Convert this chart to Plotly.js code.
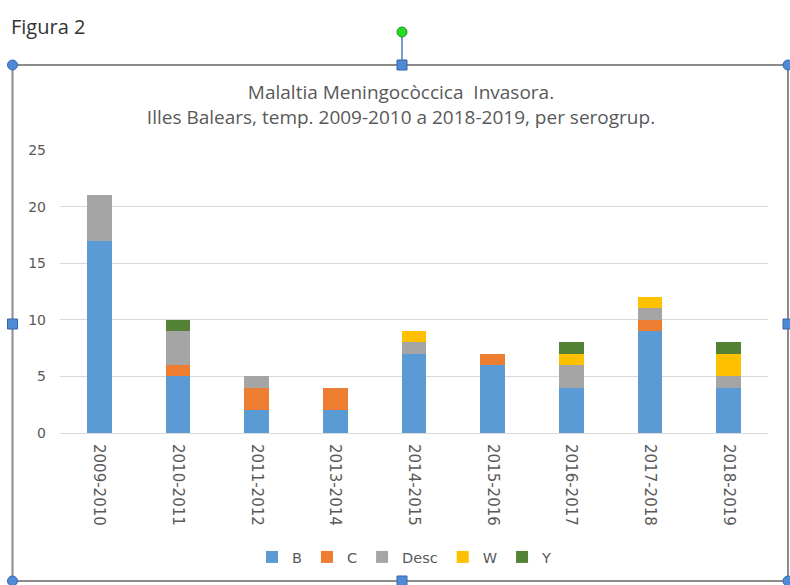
<!DOCTYPE html>
<html>
<head>
<meta charset="utf-8">
<script src="https://cdn.plot.ly/plotly-3.0.1.min.js"></script>
<style>html,body{margin:0;padding:0;background:#fff;}#chart{width:790px;height:585px;}</style>
</head>
<body>
<div id="chart"></div>
<script>
const seasons = ["2009-2010","2010-2011","2011-2012","2013-2014","2014-2015","2015-2016","2016-2017","2017-2018","2018-2019"];
const valB    = [17, 5, 2, 2, 7, 6, 4, 9, 4];
const valC    = [0, 1, 2, 2, 0, 1, 0, 1, 0];
const valDesc = [4, 3, 1, 0, 1, 0, 2, 1, 1];
const valW    = [0, 0, 0, 0, 1, 0, 1, 1, 2];
const valY    = [0, 1, 0, 0, 0, 0, 1, 0, 1];
const seriesNames = ["B","C","Desc","W","Y"];
const seriesColors = ["#5B9BD5","#ED7D31","#A5A5A5","#FFC000","#548235"];
const yTicks = [0,5,10,15,20,25];

const allVals = [valB, valC, valDesc, valW, valY];
const traces = allVals.map((v,i)=>({
  type:'bar', name: seriesNames[i], x: seasons, y: v,
  marker:{color: seriesColors[i]}, hoverinfo:'x+y+name'
}));

// layout geometry (pixels)
const W=790, H=585, L=60, R=22, T=150, B=152;
const pw = W-L-R, ph = H-T-B;
const px = x => (x-L)/pw;
const py = y => (H-B-y)/ph;

const border = '#8c8c8c';
const handleFill = '#4f8ad6', handleLine = '#3567ad';
const shapes = [];
shapes.push({type:'rect', xref:'paper', yref:'paper', x0:px(12.5), x1:px(788), y0:py(65), y1:py(581), line:{color:border, width:2}, fillcolor:'rgba(0,0,0,0)', layer:'above'});
// rotation handle
shapes.push({type:'line', xref:'paper', yref:'paper', x0:px(402), x1:px(402), y0:py(37), y1:py(62), line:{color:'#4a7ab8', width:1.5}});
function circ(cx,cy,r,fill,line){shapes.push({type:'circle', xref:'paper', yref:'paper', x0:px(cx-r), x1:px(cx+r), y0:py(cy+r), y1:py(cy-r), fillcolor:fill, line:{color:line,width:1}});}
function sq(cx,cy,r){shapes.push({type:'rect', xref:'paper', yref:'paper', x0:px(cx-r), x1:px(cx+r), y0:py(cy+r), y1:py(cy-r), fillcolor:handleFill, line:{color:handleLine,width:1}});}
circ(402,32,5,'#22dd22','#2a8a2a');
circ(12.5,65,5,handleFill,handleLine);
circ(788,65,5,handleFill,handleLine);
circ(12.5,581,5,handleFill,handleLine);
circ(788,581,5,handleFill,handleLine);
sq(402,65,5); sq(12.5,324,5); sq(788,324,5); sq(402,581,5);

const layout = {
  width:W, height:H,
  margin:{l:L, r:R, t:T, b:B, pad:0},
  paper_bgcolor:'#ffffff', plot_bgcolor:'#ffffff',
  barmode:'stack', bargap:0.69,
  font:{family:'"DejaVu Sans", sans-serif', color:'#595959', size:14},
  title:{text:'Malaltia Meningocòccica  Invasora.<br>Illes Balears, temp. 2009-2010 a 2018-2019, per serogrup.',
         font:{size:19, color:'#595959', family:'"Open Sans", sans-serif'},
         x:px(401), xanchor:'center', xref:'paper', y:1-99/H, yanchor:'middle', yref:'container'},
  xaxis:{type:'category', tickangle:90, showgrid:false, showline:false, zeroline:false, ticks:'',
         tickfont:{size:15, color:'#595959'}, ticklabelstandoff:10, fixedrange:true},
  yaxis:{range:[0,25], tickvals:yTicks, showgrid:true, gridcolor:'#d9d9d9', gridwidth:1, zeroline:true, zerolinecolor:'#d9d9d9', zerolinewidth:1,
         showline:false, ticks:'', tickfont:{size:14, color:'#595959'}, ticklabelstandoff:13, fixedrange:true},
  showlegend:true,
  legend:{orientation:'h', x:px(405), xanchor:'center', y:py(557), yanchor:'middle', font:{size:14.5, color:'#595959'}, traceorder:'normal', itemwidth:30},
  annotations:[{text:'Figura 2', xref:'paper', yref:'paper', x:px(9), y:py(26), xanchor:'left', yanchor:'middle', showarrow:false, font:{size:20, color:'#333333', family:'"Open Sans", sans-serif'}}],
  shapes: shapes
};
Plotly.newPlot('chart', traces, layout, {displayModeBar:false, staticPlot:true});
</script>
</body>
</html>
